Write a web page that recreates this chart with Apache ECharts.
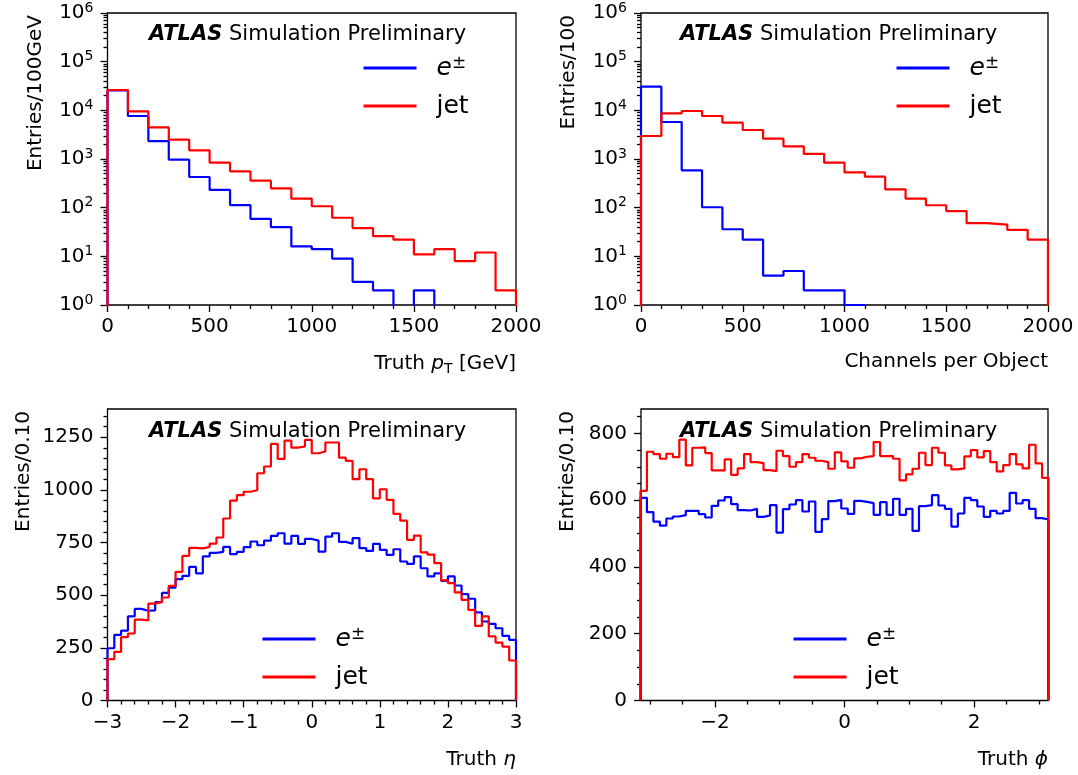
<!DOCTYPE html>
<html>
<head>
<meta charset="utf-8">
<script src="https://cdn.jsdelivr.net/npm/echarts@6/dist/echarts.min.js"></script>
<style>
  html, body { margin: 0; padding: 0; background: #fff; }
  #main { width: 1078px; height: 775px; }
</style>
</head>
<body>
<div id="main"></div>
<script>
// ---- histogram contents ----
// truth pT, bins of 100 GeV from 0 to 2000
const ptElectron = [25800, 7650, 2340, 970, 427, 231, 113, 59, 40, 16, 14, 9, 3, 2, 0, 2, 0, 0, 0, 0];
const ptJet = [26200, 9530, 4470, 2500, 1510, 841, 558, 359, 250, 153, 107, 62, 38, 26, 22, 11, 14, 8, 12, 2];
// channels per object, bins of 100 from 0 to 2000
const chanElectron = [30600, 5760, 585, 102, 36, 22, 4, 5, 2, 2, 1, 0, 0, 0, 0, 0, 0, 0, 0, 0];
const chanJet = [2970, 8670, 9690, 7650, 5580, 3940, 2620, 1820, 1270, 841, 532, 433, 238, 153, 112, 85, 48, 45, 35, 22];
// truth eta, bins of 0.1 from -3 to 3
const etaElectron = [248, 312, 332, 399, 435, 426, 428, 467, 511, 536, 576, 592, 634, 604, 684, 701, 706, 729, 695, 706,
  728, 755, 737, 759, 782, 794, 745, 782, 744, 767, 759, 707, 778, 794, 753, 744, 771, 723, 710, 744,
  715, 691, 718, 660, 649, 684, 628, 589, 604, 568, 589, 546, 505, 483, 418, 375, 364, 343, 307, 288];
const etaJet = [196, 231, 301, 318, 384, 380, 460, 468, 489, 544, 611, 687, 725, 722, 729, 745, 774, 864, 949, 975,
  991, 998, 1079, 1111, 1218, 1147, 1234, 1201, 1206, 1237, 1174, 1182, 1225, 1225, 1153, 1138, 1051, 1098, 1051, 960,
  1003, 953, 886, 854, 763, 783, 703, 693, 652, 570, 557, 513, 478, 430, 354, 399, 304, 275, 256, 190];
// truth phi, bins of 0.1 from -3.15 to 3.15
const phiElectron = [607, 564, 536, 524, 545, 551, 555, 568, 568, 558, 548, 583, 599, 609, 588, 570, 569, 574, 550, 554,
  585, 503, 573, 587, 600, 566, 596, 505, 543, 597, 601, 575, 559, 598, 595, 591, 556, 594, 556, 604,
  556, 574, 508, 582, 585, 615, 584, 574, 521, 560, 607, 600, 581, 550, 568, 560, 568, 622, 590, 600,
  574, 546, 542];
const phiJet = [628, 745, 738, 724, 739, 729, 781, 704, 757, 758, 741, 689, 689, 722, 676, 695, 738, 714, 711, 690,
  687, 748, 732, 700, 714, 738, 727, 718, 714, 694, 743, 716, 697, 725, 730, 732, 774, 732, 732, 724,
  659, 677, 694, 742, 705, 757, 742, 704, 692, 695, 731, 750, 728, 747, 714, 686, 705, 738, 707, 695,
  766, 710, 667];

// ---- tick labels ----
const ptTicks = [0, 500, 1000, 1500, 2000];
const etaTicks = [-3, -2, -1, 0, 1, 2, 3];
const etaYTicks = [0, 250, 500, 750, 1000, 1250];
const phiTicks = [-2, 0, 2];
const phiYTicks = [0, 200, 400, 600, 800];

const FONT = 'DejaVu Sans';
const BLUE = '#0000ff';
const RED = '#ff0000';

const range = (a, b, step) => {
  const out = [];
  for (let i = 0; a + i * step <= b + 1e-9; i++) out.push(+(a + i * step).toFixed(6));
  return out;
};
const edgesOf = (lo, width, n) => range(lo, lo + width * n, width);
const minus = v => (v < 0 ? '\u2212' + Math.abs(v) : String(v));

// minor tick positions
const ptMinor = range(0, 2000, 100).filter(v => v % 500 !== 0);
const logMinor = [];
for (let n = 0; n < 6; n++) for (let k = 2; k < 10; k++) logMinor.push(k * Math.pow(10, n));
const etaXMinor = range(-3, 3, 0.2).filter(v => Math.abs(v - Math.round(v)) > 1e-6);
const etaYMinor = range(0, 1350, 50).filter(v => v % 250 !== 0);
const phiXMinor = range(-3, 3, 0.5).filter(v => v % 2 !== 0);
const phiYMinor = range(0, 850, 50).filter(v => v % 200 !== 0);

// outline of a step histogram (like histtype='step'), drawn with step:'end'.
// empty bins on a log axis are pushed below the frame so they get clipped
function stepData(edges, counts, floor) {
  const pts = [[edges[0], floor]];
  counts.forEach((c, i) => pts.push([edges[i], Math.max(c, floor)]));
  const last = edges[edges.length - 1];
  pts.push([last, Math.max(counts[counts.length - 1], floor)]);
  pts.push([last, floor]);
  return pts;
}

const tickLine = { color: '#000', width: 1.3 };
const labelBase = { color: '#000', fontFamily: FONT, fontSize: 20 };
const nameBase = { color: '#000', fontFamily: FONT, fontSize: 20, lineHeight: 20 };
const subRich = {
  i: { fontFamily: FONT, fontSize: 20, fontStyle: 'italic', color: '#000', lineHeight: 24 },
  sub: { fontFamily: FONT, fontSize: 14, color: '#000', lineHeight: 14, verticalAlign: 'bottom' }
};

function xName(text) {
  return {
    name: text, nameLocation: 'end', nameGap: 0, nameMoveOverlap: false,
    nameTextStyle: Object.assign({}, nameBase, { align: 'right', verticalAlign: 'top', padding: [47, 0, 0, 0], rich: subRich })
  };
}
function yName(text, gap) {
  return {
    name: text, nameLocation: 'end', nameGap: -2, nameRotate: 90, nameMoveOverlap: false,
    nameTextStyle: Object.assign({}, nameBase, { align: 'right', verticalAlign: 'bottom', padding: [0, 0, gap, 0] })
  };
}
const noLine = { show: false, onZero: false };

function mainX(grid, min, max, ticks, name) {
  return Object.assign({
    type: 'value', gridIndex: grid, min, max, position: 'bottom', z: 3,
    axisLine: noLine, splitLine: { show: false },
    axisTick: { show: true, customValues: ticks, length: 7, lineStyle: tickLine },
    axisLabel: Object.assign({ customValues: ticks, margin: 12, formatter: minus }, labelBase)
  }, xName(name));
}
function minorX(grid, min, max, ticks) {
  return {
    type: 'value', gridIndex: grid, min, max, position: 'bottom',
    axisLine: noLine, splitLine: { show: false }, axisLabel: { show: false },
    axisTick: { show: true, customValues: ticks, length: 4, lineStyle: tickLine }
  };
}
function mainY(grid, min, max, ticks, name, gap) {
  return Object.assign({
    type: 'value', gridIndex: grid, min, max, position: 'left', z: 3,
    axisLine: noLine, splitLine: { show: false },
    axisTick: { show: true, customValues: ticks, length: 7, lineStyle: tickLine },
    axisLabel: Object.assign({ customValues: ticks, margin: 14, formatter: v => String(v) }, labelBase)
  }, yName(name, gap));
}
function logY(grid, name, gap) {
  return Object.assign({
    type: 'log', logBase: 10, gridIndex: grid, min: 1, max: 1e6, position: 'left', z: 3,
    axisLine: noLine, splitLine: { show: false },
    axisTick: { show: true, length: 7, lineStyle: tickLine },
    axisLabel: Object.assign({
      margin: 14,
      formatter: v => '{b|10}{s|' + Math.round(Math.log10(v)) + '}',
      rich: {
        b: { fontFamily: FONT, fontSize: 20, color: '#000', lineHeight: 24 },
        s: { fontFamily: FONT, fontSize: 14, color: '#000', lineHeight: 14, verticalAlign: 'top' }
      }
    }, labelBase)
  }, yName(name, gap));
}
function minorY(grid, type, min, max, ticks) {
  return {
    type, gridIndex: grid, min, max, position: 'left',
    axisLine: noLine, splitLine: { show: false }, axisLabel: { show: false },
    axisTick: { show: true, customValues: ticks, length: 4, lineStyle: tickLine }
  };
}

function hist(name, color, axisIdx, edges, counts, floor) {
  return {
    name, type: 'line', step: 'end', symbol: 'none', xAxisIndex: axisIdx, yAxisIndex: axisIdx,
    data: stepData(edges, counts, floor), clip: true,
    lineStyle: { color, width: 2.2 }, itemStyle: { color },
    emphasis: { disabled: true }, animation: false
  };
}

function atlasTitle(left, top) {
  return {
    left, top, padding: 0,
    text: '{a|ATLAS} {b|Simulation Preliminary}',
    textStyle: {
      fontFamily: FONT, fontSize: 21, fontWeight: 'normal', color: '#000',
      rich: {
        a: { fontFamily: FONT, fontSize: 21, fontWeight: 'bold', fontStyle: 'italic', color: '#000', lineHeight: 26 },
        b: { fontFamily: FONT, fontSize: 21, color: '#000', lineHeight: 26 }
      }
    }
  };
}
function legendAt(left, top) {
  return {
    left, top, orient: 'vertical', padding: 0, selectedMode: false,
    itemWidth: 53, itemHeight: 26, itemGap: 12,
    data: ['e\u00b1', 'jet'],
    lineStyle: { width: 3 },
    itemStyle: { opacity: 0, borderWidth: 0 },
    formatter: n => (n === 'jet' ? n : '{i|e}{s|\u00b1}'),
    textStyle: {
      fontFamily: FONT, fontSize: 25, color: '#000', lineHeight: 26, padding: [0, 0, 0, 15],
      rich: {
        i: { fontFamily: FONT, fontSize: 25, fontStyle: 'italic', color: '#000', lineHeight: 26 },
        s: { fontFamily: FONT, fontSize: 17, color: '#000', lineHeight: 17, verticalAlign: 'top' }
      }
    }
  };
}

const ptEdges = edgesOf(0, 100, ptJet.length);
const chanEdges = edgesOf(0, 100, chanJet.length);
const etaEdges = edgesOf(-3, 0.1, etaJet.length);
const phiEdges = edgesOf(-3.15, 0.1, phiJet.length);

const LOG_FLOOR = 0.1;
const frame = { show: true, borderColor: '#000', borderWidth: 1.3, backgroundColor: 'transparent', outerBoundsMode: 'none' };

const option = {
  backgroundColor: '#fff',
  animation: false,
  grid: [
    Object.assign({ left: 107.5, top: 13, width: 408.5, height: 292 }, frame),
    Object.assign({ left: 641, top: 13, width: 407, height: 292 }, frame),
    Object.assign({ left: 107.5, top: 409, width: 408.5, height: 291.5 }, frame),
    Object.assign({ left: 641, top: 409, width: 407, height: 291.5 }, frame)
  ],
  title: [atlasTitle(149, 22), atlasTitle(680, 22), atlasTitle(149, 419), atlasTitle(680, 419)],
  legend: [legendAt(362, 55), legendAt(261, 626), legendAt(895, 55), legendAt(792, 626)],
  xAxis: [
    mainX(0, 0, 2000, ptTicks, 'Truth {i|p}{sub|T} [GeV]'),
    mainX(1, 0, 2000, ptTicks, 'Channels per Object'),
    mainX(2, -3, 3, etaTicks, 'Truth {i|\u03b7}'),
    mainX(3, -Math.PI, Math.PI, phiTicks, 'Truth {i|\u03d5}'),
    minorX(0, 0, 2000, ptMinor),
    minorX(1, 0, 2000, ptMinor),
    minorX(2, -3, 3, etaXMinor),
    minorX(3, -Math.PI, Math.PI, phiXMinor)
  ],
  yAxis: [
    logY(0, 'Entries/100GeV', 62),
    logY(1, 'Entries/100', 62),
    mainY(2, 0, 1384, etaYTicks, 'Entries/0.10', 74),
    mainY(3, 0, 873, phiYTicks, 'Entries/0.10', 63),
    minorY(0, 'log', 1, 1e6, logMinor),
    minorY(1, 'log', 1, 1e6, logMinor),
    minorY(2, 'value', 0, 1384, etaYMinor),
    minorY(3, 'value', 0, 873, phiYMinor)
  ],
  series: [
    hist('e\u00b1', BLUE, 0, ptEdges, ptElectron, LOG_FLOOR),
    hist('jet', RED, 0, ptEdges, ptJet, LOG_FLOOR),
    hist('e\u00b1', BLUE, 1, chanEdges, chanElectron, LOG_FLOOR),
    hist('jet', RED, 1, chanEdges, chanJet, LOG_FLOOR),
    hist('e\u00b1', BLUE, 2, etaEdges, etaElectron, 0),
    hist('jet', RED, 2, etaEdges, etaJet, 0),
    hist('e\u00b1', BLUE, 3, phiEdges, phiElectron, 0),
    hist('jet', RED, 3, phiEdges, phiJet, 0)
  ]
};

const chart = echarts.init(document.getElementById('main'), null, { renderer: 'canvas' });
chart.setOption(option);
</script>
</body>
</html>
